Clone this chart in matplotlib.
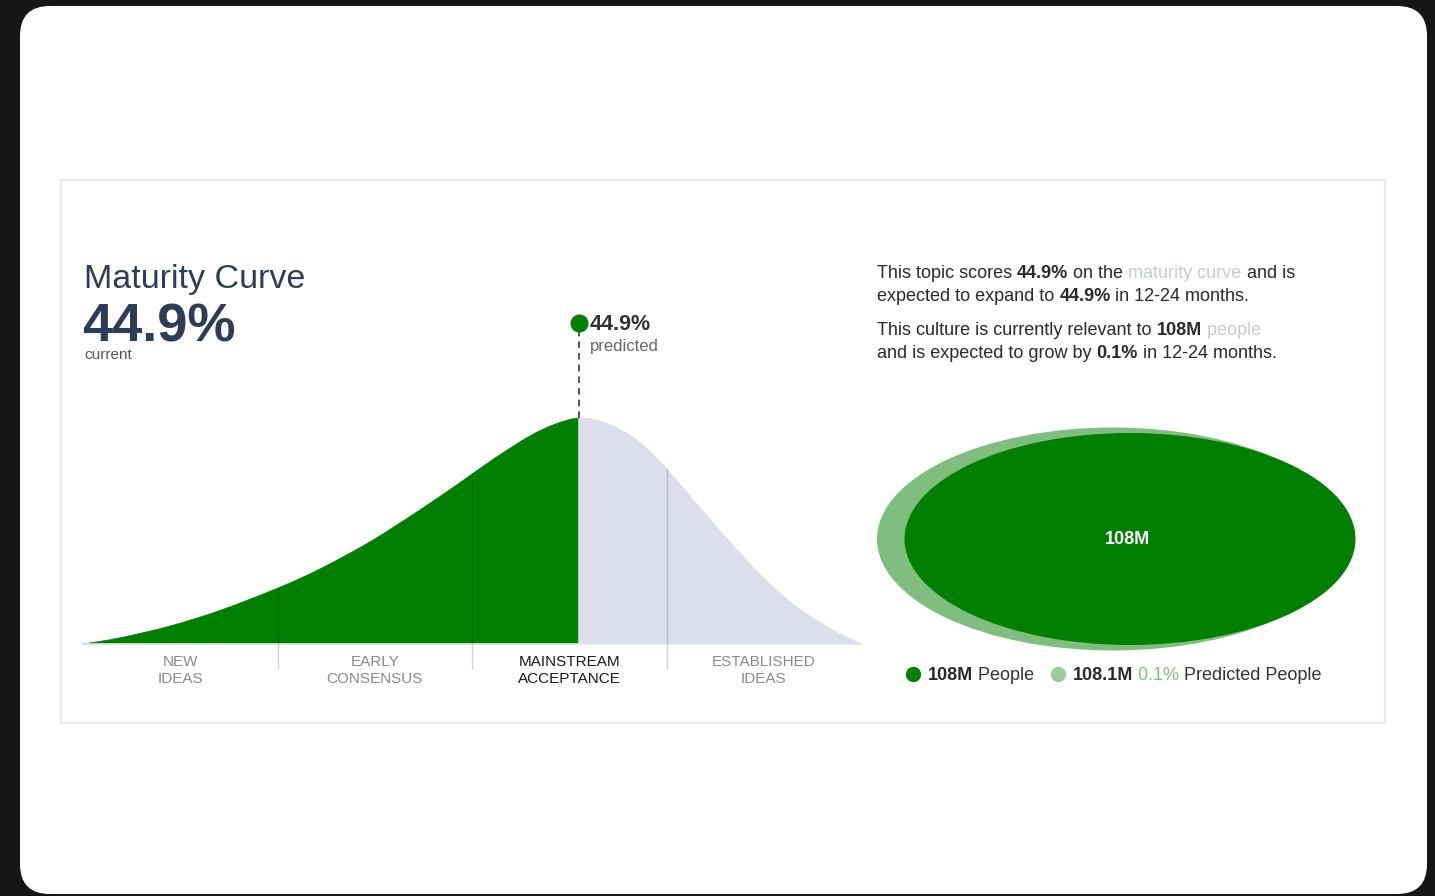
import matplotlib
matplotlib.use('Agg')
import matplotlib.pyplot as plt
from matplotlib.patches import FancyBboxPatch, Rectangle, Ellipse, PathPatch
from matplotlib.path import Path
import numpy as np

plt.rcParams['font.family'] = ['Liberation Sans', 'DejaVu Sans']

# --- values ---
maturity_current = 44.9
maturity_predicted = 44.9
people_current = 108      # millions
people_predicted = 108.1  # millions
people_growth = 0.1       # percent

stage_labels = ['NEW\nIDEAS', 'EARLY\nCONSENSUS', 'MAINSTREAM\nACCEPTANCE', 'ESTABLISHED\nIDEAS']
stage_edges = [0, 25, 50, 75, 100]
active_stage = 2

# adoption curve outline (position along the curve, relative height)
curve_pos = [0, 4.8, 11.2, 17.7, 25.2, 30.6, 37.0, 43.5, 48.6, 52.9, 57.3, 60.6,
             63.7, 66.7, 70.2, 72.8, 75.4, 78.7, 83.1, 87.4, 91.6, 96.0, 100]
curve_height = [0, 0.028, 0.080, 0.150, 0.250, 0.335, 0.455, 0.598, 0.718, 0.822, 0.918, 0.972,
                1.0, 0.984, 0.927, 0.855, 0.761, 0.628, 0.455, 0.295, 0.168, 0.070, 0]

GREEN = '#017f01'
LIGHT_GREEN = '#80be80'
LAVENDER = '#dcdfeb'
NAVY = '#2e3d57'
TEXT = '#2a2a2a'

W, H = 1435, 896
fig = plt.figure(figsize=(W / 100, H / 100), dpi=100)
fig.patch.set_facecolor('#161616')

# pixel-space canvas for frame, card and text
bg = fig.add_axes([0, 0, 1, 1])
bg.set_xlim(0, W)
bg.set_ylim(H, 0)
bg.axis('off')

bg.add_patch(FancyBboxPatch((20, 6), 1407, 888, boxstyle='round,pad=0,rounding_size=30',
                            facecolor='white', edgecolor='none'))
bg.add_patch(Rectangle((61, 180), 1324, 543, facecolor='none', edgecolor='#ebebeb', linewidth=1.6))

# headline
bg.text(84, 288, 'Maturity Curve', fontsize=24.5, color=NAVY, va='baseline')
bg.text(82, 342, f'{maturity_current}%', fontsize=39, fontweight='bold', color=NAVY, va='baseline')
bg.text(84, 359, 'current', fontsize=11, color='#555555', va='baseline')

# --- curve panel ---
ax = fig.add_axes([83 / W, (H - 644) / H, 778 / W, 226 / H])
ax.set_xlim(0, 100)
ax.set_ylim(0, 1)
ax.axis('off')

pos = np.array(curve_pos)
hgt = np.array(curve_height)
ipeak = int(np.argmax(hgt))
peak = pos[ipeak]


def smooth_area(i0, i1, color):
    # closed area under the outline from point i0 to i1, drawn with cubic Bezier segments
    pts = np.column_stack([pos, hgt])
    verts = [(pos[i0], 0.0), tuple(pts[i0])]
    codes = [Path.MOVETO, Path.LINETO]
    for i in range(i0, i1):
        p_prev = pts[max(i - 1, 0)]
        p0, p1 = pts[i], pts[i + 1]
        p_next = pts[min(i + 2, len(pts) - 1)]
        c1 = p0 + (p1 - p_prev) / 6
        c2 = p1 - (p_next - p0) / 6
        verts += [tuple(c1), tuple(c2), tuple(p1)]
        codes += [Path.CURVE4] * 3
    verts += [(pos[i1], 0.0), (pos[i0], 0.0)]
    codes += [Path.LINETO, Path.CLOSEPOLY]
    ax.add_patch(PathPatch(Path(verts, codes), facecolor=color, edgecolor=color, linewidth=0.4))


smooth_area(0, ipeak, GREEN)
smooth_area(ipeak, len(pos) - 1, LAVENDER)
ax.plot([0, 100], [0, 0], color='#e3e4ea', linewidth=1.2, clip_on=False)

for edge in stage_edges[1:-1]:
    top = np.interp(edge, pos, hgt)
    ax.plot([edge, edge], [-0.108, top], color='black', alpha=0.17, linewidth=1, clip_on=False)

for i, label in enumerate(stage_labels):
    mid = (stage_edges[i] + stage_edges[i + 1]) / 2
    ax.text(mid, -0.118, label, ha='center', va='center', fontsize=11, linespacing=1.25,
            color='#1a1a1a' if i == active_stage else '#8a8a8a', clip_on=False)

# predicted marker
ax.plot([peak, peak], [1.0, 1.40], color='#1f4d1f', linewidth=1.2, linestyle=(0, (4, 3)), clip_on=False)
ax.plot(peak, 1.42, 'o', color=GREEN, markersize=12, clip_on=False)
ax.text(peak + 1.4, 1.415, f'{maturity_predicted}%', fontsize=15.5, fontweight='bold',
        color='#333333', va='center', clip_on=False)
ax.text(peak + 1.4, 1.315, 'predicted', fontsize=12, color='#666666', va='center', clip_on=False)


# --- mixed-style text lines ---
def rich_line(x, y, runs, size=13):
    prev = None
    for s, weight, color in runs:
        if prev is None:
            prev = bg.text(x, y, s, fontsize=size, fontweight=weight, color=color, va='baseline')
        else:
            prev = bg.annotate(s, xy=(1, 0), xycoords=prev, fontsize=size, fontweight=weight,
                               color=color, va='bottom', ha='left')
    return prev


faint = '#c6cadc'
rich_line(877, 278, [('This topic scores ', 'normal', TEXT), (f'{maturity_current}%', 'bold', TEXT),
                     (' on the ', 'normal', TEXT), ('maturity curve', 'normal', faint),
                     (' and is', 'normal', TEXT)])
rich_line(877, 301, [('expected to expand to ', 'normal', TEXT), (f'{maturity_predicted}%', 'bold', TEXT),
                     (' in 12-24 months.', 'normal', TEXT)])
rich_line(877, 335, [('This culture is currently relevant to ', 'normal', TEXT),
                     (f'{people_current}M', 'bold', TEXT), (' people', 'normal', faint)])
rich_line(877, 358, [('and is expected to grow by ', 'normal', TEXT), (f'{people_growth}%', 'bold', TEXT),
                     (' in 12-24 months.', 'normal', TEXT)])

# population bubbles
bg.add_patch(Ellipse((1113, 539), 472, 223, facecolor=LIGHT_GREEN, edgecolor='none'))
bg.add_patch(Ellipse((1130, 539), 451, 212, facecolor=GREEN, edgecolor='none'))
bg.text(1127, 539, f'{people_current}M', fontsize=13, fontweight='bold', color='white',
        ha='center', va='center')

# legend
bg.plot(913, 674, 'o', color=GREEN, markersize=10)
rich_line(928, 680, [(f'{people_current}M', 'bold', TEXT), (' People', 'normal', '#333333')])
bg.plot(1058, 674, 'o', color='#9ccc9c', markersize=10)
rich_line(1073, 680, [(f'{people_predicted}M', 'bold', TEXT), (f' {people_growth}%', 'normal', '#7cc47c'),
                      (' Predicted People', 'normal', '#333333')])

fig.savefig('out.png', dpi=100, facecolor=fig.get_facecolor())
